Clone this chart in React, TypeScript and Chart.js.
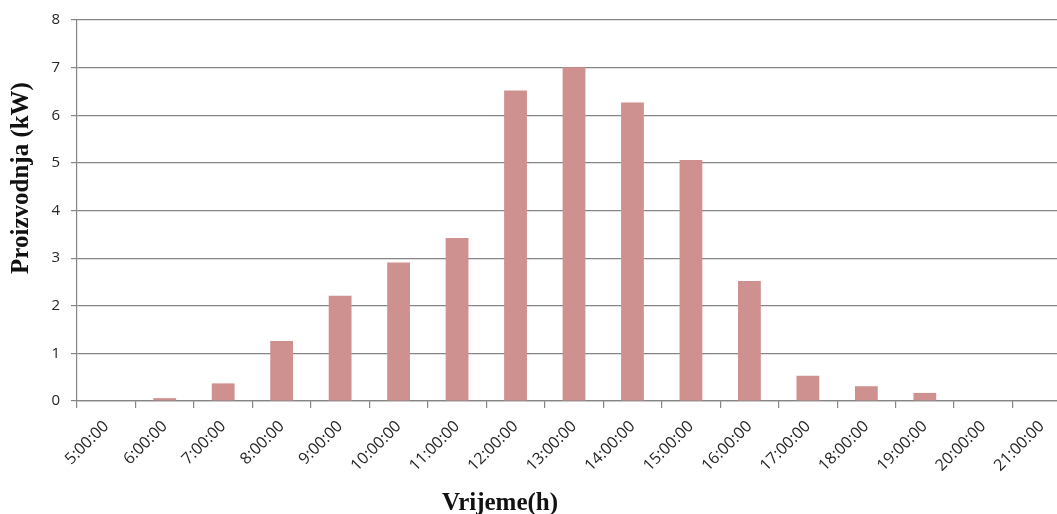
import { useEffect, useRef } from 'react';
import { Chart, registerables } from 'chart.js';
Chart.register(...registerables);

const categories = [
  '5:00:00', '6:00:00', '7:00:00', '8:00:00', '9:00:00', '10:00:00', '11:00:00',
  '12:00:00', '13:00:00', '14:00:00', '15:00:00', '16:00:00', '17:00:00',
  '18:00:00', '19:00:00', '20:00:00', '21:00:00',
];
const production = [0, 0.06, 0.37, 1.26, 2.21, 2.91, 3.42, 6.52, 7.01, 6.27, 5.06, 2.52, 0.53, 0.31, 0.17, 0, 0];
const yMin = 0;
const yMax = 8;
const yStep = 1;
const xTitle = 'Vrijeme(h)';
const yTitle = 'Proizvodnja (kW)';

export default function App() {
  const ref = useRef<HTMLCanvasElement>(null);
  useEffect(() => {
    const titles = {
      id: 'titles',
      afterDraw(chart: any) {
        const ctx = chart.ctx;
        ctx.save();
        ctx.fillStyle = '#111';
        ctx.font = 'bold 25px "Liberation Serif"';
        ctx.textAlign = 'center';
        ctx.textBaseline = 'alphabetic';
        ctx.fillText(xTitle, 500, 510);
        ctx.translate(28, 178);
        ctx.rotate(-Math.PI / 2);
        ctx.fillText(yTitle, 0, 0);
        ctx.restore();
      },
    };
    const chart = new Chart(ref.current!, {
      type: 'bar',
      data: {
        labels: categories,
        datasets: [
          {
            data: production,
            backgroundColor: '#cf918f',
            barPercentage: 0.39,
            categoryPercentage: 1,
          },
        ],
      },
      options: {
        animation: false,
        responsive: false,
        maintainAspectRatio: false,
        layout: { padding: { top: 20, right: 9, left: 0, bottom: 0 } },
        plugins: { legend: { display: false }, tooltip: { enabled: false } },
        scales: {
          x: {
            grid: { offset: true, drawOnChartArea: false, tickLength: 7, color: '#858585', lineWidth: 1.2 },
            border: { color: '#858585', width: 1.2 },
            ticks: {
              minRotation: 45,
              maxRotation: 45,
              autoSkip: false,
              color: '#262626',
              padding: 9,
              font: { family: '"Open Sans"', size: 16 },
            },
            afterFit(s: any) {
              s.height = 113;
            },
          },
          y: {
            min: yMin,
            max: yMax,
            ticks: {
              stepSize: yStep,
              color: '#262626',
              padding: 11,
              font: { family: '"Open Sans"', size: 15 },
            },
            grid: { color: '#858585', tickLength: 6, lineWidth: 1.2 },
            border: { color: '#858585', width: 1.2 },
            afterFit(s: any) {
              s.width = 77;
            },
          },
        },
      },
      plugins: [titles],
    });
    return () => chart.destroy();
  }, []);
  return (
    <div
      style={{
        position: 'absolute',
        left: 0,
        top: 0,
        width: 1057,
        height: 514,
        overflow: 'hidden',
        background: '#fff',
      }}
    >
      <canvas ref={ref} width={1080} height={514} style={{ display: 'block' }} />
    </div>
  );
}
